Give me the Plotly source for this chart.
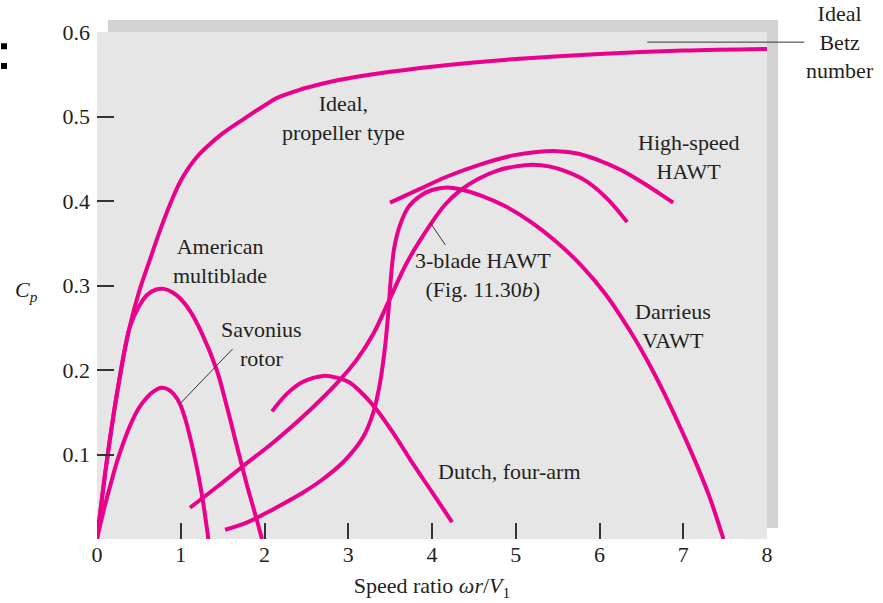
import plotly.graph_objects as go

# Cp curves: speed ratio vs power coefficient
ideal_x = [0, 0.12, 0.24, 0.39, 0.5, 0.63, 0.77, 0.91, 1.0, 1.1, 1.2, 1.31, 1.5, 1.75, 2.0, 2.15,
           2.4, 2.7, 3.1, 3.5, 4.0, 4.5, 5.0, 6.0, 7.0, 8.0]
ideal_y = [0, 0.094, 0.173, 0.251, 0.292, 0.33, 0.37, 0.405, 0.424, 0.44, 0.453, 0.464, 0.48, 0.497,
           0.513, 0.522, 0.531, 0.539, 0.547, 0.553, 0.559, 0.564, 0.568, 0.574, 0.578, 0.58]

multiblade_x = [0, 0.12, 0.24, 0.39, 0.5, 0.6, 0.7, 0.8, 0.9, 1.0, 1.11, 1.25, 1.43, 1.55, 1.67,
                1.79, 1.91, 1.97]
multiblade_y = [0, 0.094, 0.173, 0.25, 0.275, 0.289, 0.295, 0.296, 0.292, 0.284, 0.27, 0.244, 0.2,
                0.157, 0.11, 0.064, 0.022, 0.0]

savonius_x = [0, 0.08, 0.155, 0.25, 0.39, 0.5, 0.6, 0.68, 0.77, 0.85, 0.92, 0.99, 1.06, 1.15, 1.24, 1.33]
savonius_y = [0, 0.034, 0.062, 0.095, 0.133, 0.155, 0.168, 0.175, 0.179, 0.177, 0.171, 0.16, 0.14,
              0.104, 0.06, 0.0]

dutch_x = [2.09, 2.27, 2.46, 2.7, 2.86, 3.02, 3.18, 3.34, 3.54, 3.74, 3.99, 4.24]
dutch_y = [0.151, 0.172, 0.186, 0.193, 0.191, 0.185, 0.171, 0.153, 0.125, 0.094, 0.057, 0.02]

three_blade_x = [1.11, 1.45, 1.74, 2.1, 2.46, 2.86, 3.1, 3.3, 3.5, 3.7, 3.98, 4.15, 4.33, 4.55, 4.78,
                 5.0, 5.2, 5.4, 5.6, 5.85, 6.1, 6.33]
three_blade_y = [0.037, 0.063, 0.086, 0.114, 0.145, 0.184, 0.212, 0.243, 0.285, 0.327, 0.372, 0.395,
                 0.412, 0.426, 0.436, 0.441, 0.443, 0.441, 0.435, 0.423, 0.402, 0.375]

high_speed_x = [3.5, 3.85, 4.18, 4.6, 4.97, 5.25, 5.49, 5.75, 5.97, 6.25, 6.48, 6.7, 6.88]
high_speed_y = [0.398, 0.414, 0.429, 0.444, 0.454, 0.458, 0.459, 0.456, 0.449, 0.437, 0.424, 0.41, 0.398]

darrieus_x = [1.53, 1.8, 2.1, 2.46, 2.7, 2.95, 3.18, 3.3, 3.38, 3.44, 3.48, 3.51, 3.55, 3.62, 3.72,
              3.86, 4.0, 4.18, 4.37, 4.57, 4.87, 5.17, 5.47, 5.77, 6.07, 6.36, 6.56, 6.76, 6.96, 7.16,
              7.32, 7.48]
darrieus_y = [0.011, 0.02, 0.035, 0.055, 0.071, 0.092, 0.121, 0.15, 0.185, 0.228, 0.27, 0.31, 0.345,
              0.372, 0.393, 0.406, 0.413, 0.416, 0.413, 0.407, 0.394, 0.376, 0.353, 0.325, 0.29, 0.247,
              0.213, 0.175, 0.133, 0.088, 0.048, 0.0]

betz_cp = 0.588

# leader lines from labels to curves
savonius_ptr_x = [1.0, 1.62]
savonius_ptr_y = [0.161, 0.225]
three_blade_ptr_x = [3.98, 4.16]
three_blade_ptr_y = [0.374, 0.348]

x_ticks = [0, 1, 2, 3, 4, 5, 6, 7, 8]
y_ticks = [0.1, 0.2, 0.3, 0.4, 0.5, 0.6]

MAGENTA = "#EB008B"
INK = "#231F20"
FONT = "Liberation Serif, Times New Roman, serif"
FS = 22

fig = go.Figure()

curves = [
    (ideal_x, ideal_y),
    (multiblade_x, multiblade_y),
    (savonius_x, savonius_y),
    (dutch_x, dutch_y),
    (three_blade_x, three_blade_y),
    (high_speed_x, high_speed_y),
    (darrieus_x, darrieus_y),
]
for xs, ys in curves:
    fig.add_trace(go.Scatter(
        x=xs, y=ys, mode="lines",
        line=dict(color=MAGENTA, width=4, shape="spline", smoothing=1.0),
        hoverinfo="skip", showlegend=False,
    ))

for xs, ys in [(savonius_ptr_x, savonius_ptr_y), (three_blade_ptr_x, three_blade_ptr_y)]:
    fig.add_trace(go.Scatter(
        x=xs, y=ys, mode="lines",
        line=dict(color="#333333", width=1),
        hoverinfo="skip", showlegend=False,
    ))

# invisible trace on the overlay axes so their tick marks get drawn
fig.add_trace(go.Scatter(x=[0, 8], y=[0, 0.6], xaxis="x2", yaxis="y2",
                         mode="lines", line=dict(width=0, color="rgba(0,0,0,0)"),
                         hoverinfo="skip", showlegend=False))

labels = [
    (2.94, 0.498, "Ideal,<br>propeller type"),
    (1.47, 0.329, "American<br>multiblade"),
    (1.97, 0.231, "Savonius<br>rotor"),
    (4.61, 0.312, "3-blade HAWT<br>(Fig. 11.30<i>b</i>)"),
    (7.06, 0.452, "High-speed<br>HAWT"),
    (6.88, 0.252, "Darrieus<br>VAWT"),
    (4.93, 0.080, "Dutch, four-arm"),
]
for lx, ly, txt in labels:
    fig.add_annotation(x=lx, y=ly, text=txt, showarrow=False,
                       font=dict(family=FONT, size=FS, color=INK))

# Betz limit label with its leader line
fig.add_annotation(x=6.57, y=betz_cp, ax=8.87, ay=betz_cp, axref="x", ayref="y",
                   text="Ideal<br>Betz<br>number", showarrow=True, arrowhead=0,
                   arrowwidth=1, arrowcolor="#333333", standoff=0,
                   font=dict(family=FONT, size=FS, color=INK))

fig.add_annotation(xref="paper", yref="paper", x=-0.085, y=0.49, xanchor="right",
                   text="<i>C<sub>p</sub></i>", showarrow=False,
                   font=dict(family=FONT, size=FS, color=INK))

# panel with offset shadow, and the two stray dots on the left edge
fig.add_shape(type="rect", xref="paper", yref="paper", x0=0.0164, x1=1.0164, y0=0.0217, y1=1.0237,
              fillcolor="#D1D2D4", line_width=0, layer="below")
fig.add_shape(type="rect", xref="paper", yref="paper", x0=0, x1=1, y0=0, y1=1,
              fillcolor="#E6E6E6", line_width=0, layer="below")
for y0 in (0.966, 0.927):
    fig.add_shape(type="rect", xref="paper", yref="paper", x0=-0.1433, x1=-0.1343,
                  y0=y0, y1=y0 + 0.0118, fillcolor="black", line_width=0)

axis_font = dict(family=FONT, size=FS, color=INK)
fig.update_layout(
    width=883, height=603,
    margin=dict(l=97, r=116, t=32, b=64, autoexpand=False),
    paper_bgcolor="white",
    plot_bgcolor="rgba(0,0,0,0)",
    xaxis=dict(range=[0, 8], tickvals=x_ticks, ticks="", showgrid=False, zeroline=False,
               showline=False, tickfont=axis_font,
               title=dict(text="Speed ratio <i>ωr</i>/<i>V</i><sub>1</sub>", font=axis_font, standoff=11)),
    yaxis=dict(range=[0, 0.6], tickvals=y_ticks, ticktext=["0.1", "0.2", "0.3", "0.4", "0.5", "0.6"],
               ticks="", showgrid=False, zeroline=False, showline=False, tickfont=axis_font,
               ticklabelstandoff=6),
    xaxis2=dict(range=[0, 8], overlaying="x", tickvals=[1, 2, 3, 4, 5, 6, 7], ticks="inside",
                ticklen=16, tickwidth=1.5, tickcolor="#333333", showticklabels=False,
                showgrid=False, zeroline=False, showline=False, side="bottom", anchor="y2"),
    yaxis2=dict(range=[0, 0.6], overlaying="y", tickvals=[0.1, 0.2, 0.3, 0.4, 0.5], ticks="inside",
                ticklen=17, tickwidth=1.5, tickcolor="#333333", showticklabels=False,
                showgrid=False, zeroline=False, showline=False, side="left", anchor="x2"),
)

# the page body has a default 8px margin; drop it so the figure sits at the window corner
fig.write_html("out.html", config={"displayModeBar": False},
               post_script="document.body.style.margin = '0';")
